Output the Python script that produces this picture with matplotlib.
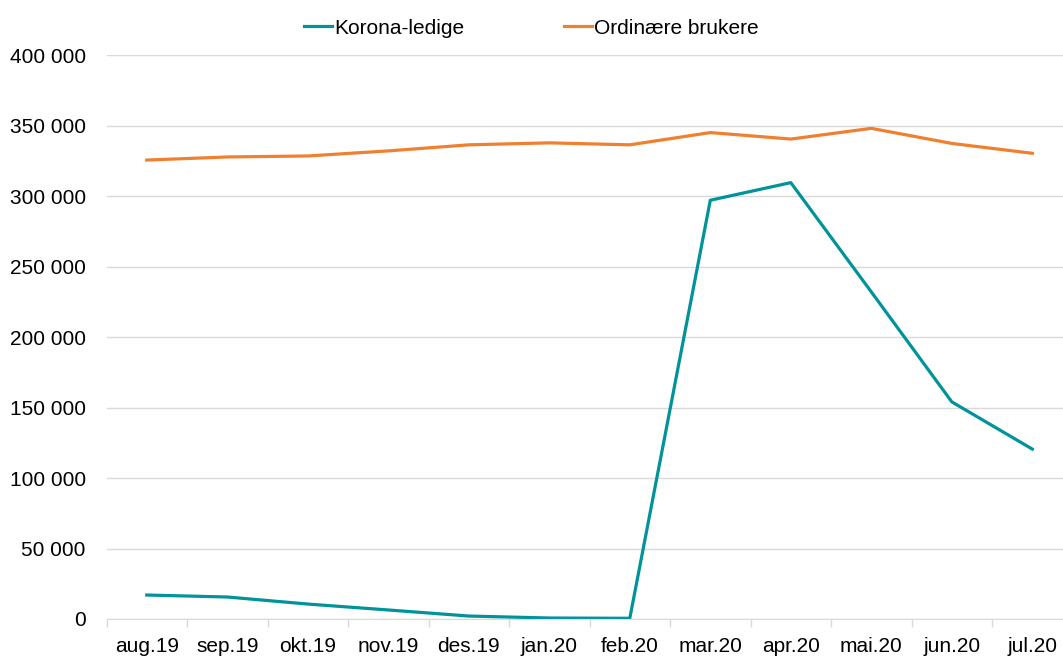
import matplotlib

matplotlib.use("Agg")
import matplotlib.pyplot as plt
from matplotlib.ticker import FuncFormatter, FixedLocator

months = ["aug.19", "sep.19", "okt.19", "nov.19", "des.19", "jan.20",
          "feb.20", "mar.20", "apr.20", "mai.20", "jun.20", "jul.20"]
korona_ledige = [17000, 15600, 10600, 6400, 2100, 700, 500,
                 297000, 309500, 232000, 154000, 120500]
ordinaere = [325500, 327700, 328400, 332000, 336300, 337700, 336300,
             345000, 340400, 348000, 337300, 330300]

plt.rcParams["font.family"] = ["Liberation Sans", "DejaVu Sans"]

fig = plt.figure(figsize=(10.63, 6.59), dpi=100)
# plot area runs slightly past the right edge of the figure, as in the source
ax = fig.add_axes([0.1002, 0.0607, 0.9088, 0.8558])

x = [i + 0.5 for i in range(len(months))]
ax.plot(x, korona_ledige, color="#00939a", lw=2.3, label="Korona-ledige",
        solid_joinstyle="round")
ax.plot(x, ordinaere, color="#f08030", lw=2.3, label="Ordinære brukere",
        solid_joinstyle="round")

ax.set_xlim(0, len(months))
ax.set_ylim(0, 400000)
ax.set_yticks(range(0, 400001, 50000))
ax.yaxis.set_major_formatter(FuncFormatter(lambda v, p: f"{int(v):,}".replace(",", " ")))
ax.grid(axis="y", color="#d9d9d9", lw=1)
ax.set_axisbelow(True)

ax.xaxis.set_major_locator(FixedLocator(x))
ax.set_xticklabels(months)
ax.xaxis.set_minor_locator(FixedLocator(range(len(months) + 1)))
ax.tick_params(axis="x", which="major", length=0, pad=13, labelsize=15)
ax.tick_params(axis="x", which="minor", length=6, color="#d9d9d9", width=1)
ax.tick_params(axis="y", length=0, pad=15, labelsize=15)

for side in ["top", "right", "left"]:
    ax.spines[side].set_visible(False)
ax.spines["bottom"].set_color("#d9d9d9")

fig.legend(loc="upper center", bbox_to_anchor=(0.5, 1.0), ncol=2, frameon=False,
           fontsize=15, handlelength=1.35, handletextpad=0.1, columnspacing=4.8)

fig.savefig("out.png", dpi=100)
